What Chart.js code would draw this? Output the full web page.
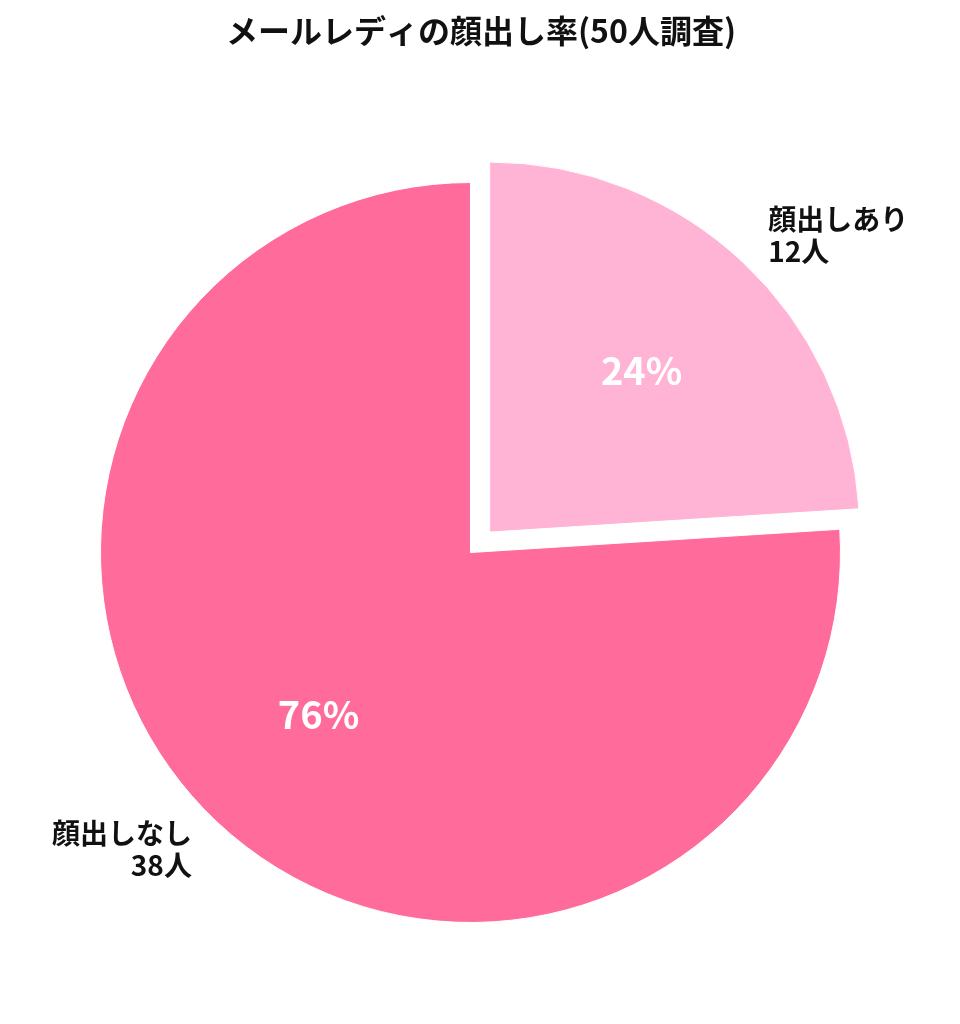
<!DOCTYPE html>
<html lang="ja">
<head>
<meta charset="utf-8">
<title>メールレディの顔出し率</title>
<script src="https://cdn.jsdelivr.net/npm/chart.js@4/dist/chart.umd.min.js"></script>
<style>
  html, body { margin: 0; padding: 0; background: #fff; }
  #wrap { width: 960px; height: 1024px; }
</style>
</head>
<body>
<div id="wrap"><canvas id="pieChart" width="960" height="1024"></canvas></div>
<script>
// Chart data
const chartTitle = "メールレディの顔出し率(50人調査)";
const categories = ["顔出しあり", "顔出しなし"];
const counts = [12, 38];
const unitLabel = "人";
const sliceColors = ["#FFB4D6", "#FF6C9B"];
const sliceOffsets = [112, 0]; // arc offset option (drawn at 1/4 in v4)

const fontFamily = "'Noto Sans CJK JP', 'Noto Sans', sans-serif";

// Title centred on the page (the pie itself sits a little left of centre)
const pageTitle = {
  id: "pageTitle",
  afterDraw(chart) {
    const ctx = chart.ctx;
    ctx.save();
    ctx.fillStyle = "#111";
    ctx.font = "bold 32px " + fontFamily;
    ctx.textAlign = "center";
    ctx.textBaseline = "middle";
    ctx.fillText(chartTitle, chart.width / 2 + 1, 31);
    ctx.restore();
  }
};

// Draws percentages inside and name/count outside each slice
const sliceLabels = {
  id: "sliceLabels",
  afterDatasetsDraw(chart) {
    const ctx = chart.ctx;
    const meta = chart.getDatasetMeta(0);
    const values = chart.data.datasets[0].data;
    const total = values.reduce((a, b) => a + b, 0);

    meta.data.forEach((arc, i) => {
      const p = arc.getProps(["x", "y", "startAngle", "endAngle", "outerRadius"], true);
      const mid = (p.startAngle + p.endAngle) / 2;
      const shift = (arc.options.offset || 0) / 4;
      const cx = p.x + Math.cos(mid) * shift;
      const cy = p.y + Math.sin(mid) * shift;
      const r = p.outerRadius;

      ctx.save();
      // percent inside
      ctx.fillStyle = "#fff";
      ctx.font = "bold 38px " + fontFamily;
      ctx.textAlign = "center";
      ctx.textBaseline = "middle";
      const pct = Math.round(values[i] / total * 100) + "%";
      ctx.fillText(pct, cx + Math.cos(mid) * r * 0.6, cy + Math.sin(mid) * r * 0.6);

      // name + count outside
      const lx = cx + Math.cos(mid) * r * 1.1;
      const ly = cy + Math.sin(mid) * r * 1.1;
      ctx.fillStyle = "#111";
      ctx.font = "bold 28px " + fontFamily;
      ctx.textAlign = Math.cos(mid) >= 0 ? "left" : "right";
      ctx.fillText(chart.data.labels[i], lx, ly - 16);
      ctx.fillText(values[i] + unitLabel, lx, ly + 16);
      ctx.restore();
    });
  }
};

new Chart(document.getElementById("pieChart"), {
  type: "pie",
  data: {
    labels: categories,
    datasets: [{
      data: counts,
      backgroundColor: sliceColors,
      borderColor: "#ffffff",
      borderWidth: 1,
      offset: sliceOffsets
    }]
  },
  options: {
    responsive: false,
    animation: false,
    layout: { padding: { left: 44, right: 63, top: 126, bottom: 45 } },
    plugins: {
      legend: { display: false },
      tooltip: { enabled: false },
      title: { display: false }
    }
  },
  plugins: [sliceLabels, pageTitle]
});
</script>
</body>
</html>
